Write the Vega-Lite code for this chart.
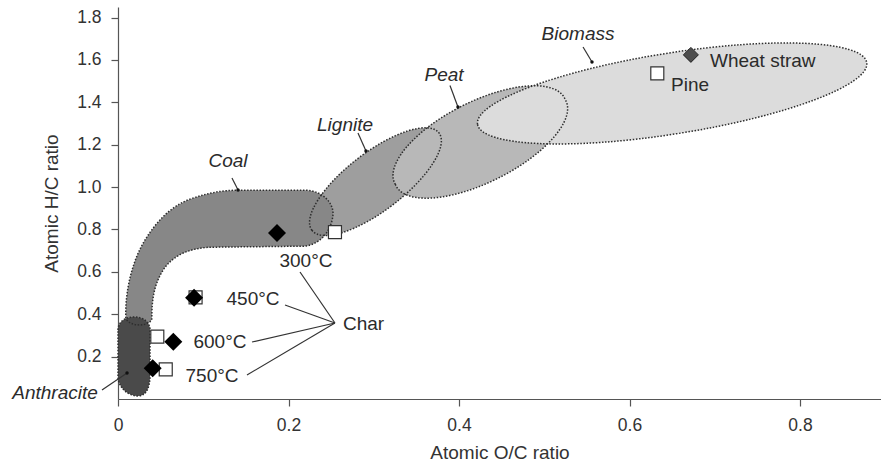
{
  "$schema": "https://vega.github.io/schema/vega-lite/v6.json",
  "width": 763,
  "height": 392,
  "autosize": {"type": "none"},
  "padding": {"left": 118, "top": 7, "right": 0, "bottom": 65},
  "background": "white",
  "config": {
    "view": {"stroke": null},
    "font": "Liberation Sans",
    "axis": {
      "grid": false,
      "domainColor": "#555",
      "domainWidth": 1.2,
      "tickColor": "#555",
      "tickWidth": 1.2,
      "tickSize": 7,
      "labelFont": "Liberation Sans",
      "labelFontSize": 17.5,
      "labelColor": "#333",
      "labelPadding": 10,
      "labelFlush": false,
      "titleFont": "Liberation Sans",
      "titleFontSize": 19,
      "titleFontWeight": "normal",
      "titleColor": "#333"
    }
  },
  "datasets": {
    "regions": [
      {"region": "Lignite", "x": 0.302, "y": 1.026},
      {"region": "Peat", "x": 0.425, "y": 1.213},
      {"region": "Biomass", "x": 0.65, "y": 1.442},
      {"region": "Coal", "x": 0.13, "y": 0.66},
      {"region": "Anthracite", "x": 0.01, "y": 0.12}
    ],
    "lines": [
      {"x": 0.1337, "y": 1.0429, "x2": 0.1408, "y2": 0.9863},
      {"x": 0.2815, "y": 1.2553, "x2": 0.2909, "y2": 1.1704},
      {"x": 0.3894, "y": 1.4795, "x2": 0.3988, "y2": 1.378},
      {"x": 0.5455, "y": 1.6612, "x2": 0.556, "y2": 1.5904},
      {"x": -0.0188, "y": 0.0425, "x2": 0.0106, "y2": 0.1227},
      {"x": 0.2135, "y": 0.5993, "x2": 0.2545, "y2": 0.3587},
      {"x": 0.1959, "y": 0.4436, "x2": 0.2545, "y2": 0.3587},
      {"x": 0.1572, "y": 0.269, "x2": 0.2545, "y2": 0.3587},
      {"x": 0.1513, "y": 0.1133, "x2": 0.2545, "y2": 0.3587}
    ],
    "dots": [
      {"x": 0.1408, "y": 0.9863},
      {"x": 0.2909, "y": 1.1704},
      {"x": 0.3988, "y": 1.378},
      {"x": 0.556, "y": 1.5904},
      {"x": 0.0106, "y": 0.1227}
    ],
    "squares": [
      {"name": "300C", "x": 0.2545, "y": 0.788},
      {"name": "450C", "x": 0.091, "y": 0.48},
      {"name": "600C", "x": 0.0461, "y": 0.294},
      {"name": "750C", "x": 0.056, "y": 0.14},
      {"name": "Pine", "x": 0.6326, "y": 1.537}
    ],
    "diamonds": [
      {"name": "raw", "x": 0.1865, "y": 0.783},
      {"name": "450C", "x": 0.0892, "y": 0.478},
      {"name": "600C", "x": 0.0649, "y": 0.27},
      {"name": "750C", "x": 0.0407, "y": 0.145}
    ],
    "wheat": [
      {"name": "Wheat straw", "x": 0.672, "y": 1.624}
    ],
    "regionLabels": [
      {"label": "Coal", "x": 0.129, "y": 1.123},
      {"label": "Lignite", "x": 0.2663, "y": 1.2931},
      {"label": "Peat", "x": 0.3824, "y": 1.529},
      {"label": "Biomass", "x": 0.5396, "y": 1.7225},
      {"label": "Anthracite", "x": -0.0739, "y": 0.0283}
    ],
    "tempLabels": [
      {"label": "300°C", "x": 0.2205, "y": 0.6513},
      {"label": "450°C", "x": 0.1584, "y": 0.4719},
      {"label": "600°C", "x": 0.1196, "y": 0.269},
      {"label": "750°C", "x": 0.1103, "y": 0.1085}
    ],
    "leftLabels": [
      {"label": "Char", "x": 0.2639, "y": 0.3539},
      {"label": "Wheat straw", "x": 0.6944, "y": 1.5951},
      {"label": "Pine", "x": 0.6487, "y": 1.4818}
    ]
  },
  "encoding": {
    "x": {
      "field": "x",
      "type": "quantitative",
      "scale": {"domain": [0, 0.895], "nice": false, "zero": false},
      "axis": {"values": [0, 0.2, 0.4, 0.6, 0.8], "format": ".1~f", "title": "Atomic O/C ratio", "titlePadding": 10}
    },
    "y": {
      "field": "y",
      "type": "quantitative",
      "scale": {"domain": [0, 1.85], "nice": false, "zero": false},
      "axis": {"values": [0.2, 0.4, 0.6, 0.8, 1.0, 1.2, 1.4, 1.6, 1.8], "format": ".1f", "title": "Atomic H/C ratio", "titlePadding": 15}
    }
  },
  "layer": [
    {
      "data": {"name": "regions"},
      "mark": {"type": "point", "filled": true, "size": 4, "opacity": 1, "strokeWidth": 0},
      "encoding": {
        "shape": {
          "field": "region",
          "type": "nominal",
          "scale": {
            "domain": ["Lignite", "Peat", "Biomass", "Coal", "Anthracite"],
            "range": [
              "M -63.5 48.7 A 80 29 -37.5 1 1 63.5 -48.7 A 80 29 -37.5 1 1 -63.5 48.7 Z",
              "M -84.9 42.5 A 95 39 -26.6 1 1 84.9 -42.5 A 95 39 -26.6 1 1 -84.9 42.5 Z",
              "M -194.6 30.8 A 197 40.5 -9 1 1 194.6 -30.8 A 197 40.5 -9 1 1 -194.6 30.8 Z",
              "M -103 59 C -104 31 -96 -1 -82 -22 C -71 -39 -57 -54 -36 -61 C -21 -66 -7 -69 11 -69 L 76 -69 C 93 -69 106 -56 104 -43 C 102 -27 91 -15 76 -13 L -14 -12 C -39 -12 -57 -4 -67 13 C -75 27 -77 41 -77 59 C -77 67 -99 69 -103 59 Z",
              "M -8.5 -43.6 C -8.5 -51.6 -1.5 -56.6 7.5 -56.6 C 16.5 -56.6 23.5 -51.6 23.5 -43.6 L 23.5 1.4 C 23.5 14.4 19.5 22.4 11.5 22.4 C 1.5 22.4 -7.5 14.4 -8.5 4.4 Z"
            ]
          },
          "legend": null
        },
        "color": {
          "field": "region",
          "type": "nominal",
          "scale": {
            "domain": ["Lignite", "Peat", "Biomass", "Coal", "Anthracite"],
            "range": ["#9e9e9e", "#b8b8b8", "#dcdcdc", "#878787", "#4a4a4a"]
          },
          "legend": null
        }
      }
    },
    {
      "data": {"name": "regions"},
      "mark": {"type": "point", "filled": false, "size": 4, "opacity": 1, "color": "#2e2e2e", "strokeWidth": 1.5, "strokeDash": [1.5, 1.6]},
      "encoding": {
        "shape": {"field": "region", "type": "nominal", "legend": null}
      }
    },
    {
      "data": {"name": "lines"},
      "mark": {"type": "rule", "color": "#333", "strokeWidth": 1.2},
      "encoding": {
        "x2": {"field": "x2"},
        "y2": {"field": "y2"}
      }
    },
    {
      "data": {"name": "dots"},
      "mark": {"type": "point", "shape": "circle", "filled": true, "size": 12, "opacity": 1, "color": "#111"}
    },
    {
      "data": {"name": "squares"},
      "mark": {"type": "point", "shape": "square", "filled": true, "size": 169, "opacity": 1, "fill": "white", "stroke": "#333", "strokeWidth": 1.2}
    },
    {
      "data": {"name": "diamonds"},
      "mark": {"type": "point", "shape": "diamond", "filled": true, "size": 324, "opacity": 1, "color": "#000"}
    },
    {
      "data": {"name": "wheat"},
      "mark": {"type": "point", "shape": "diamond", "filled": true, "size": 225, "opacity": 1, "fill": "#4d4d4d", "stroke": "#222", "strokeWidth": 1}
    },
    {
      "data": {"name": "regionLabels"},
      "mark": {"type": "text", "font": "Liberation Sans", "fontSize": 19, "fontStyle": "italic", "color": "#2b2b2b", "align": "center", "baseline": "middle"},
      "encoding": {"text": {"field": "label"}}
    },
    {
      "data": {"name": "tempLabels"},
      "mark": {"type": "text", "font": "Liberation Sans", "fontSize": 19, "color": "#2b2b2b", "align": "center", "baseline": "middle"},
      "encoding": {"text": {"field": "label"}}
    },
    {
      "data": {"name": "leftLabels"},
      "mark": {"type": "text", "font": "Liberation Sans", "fontSize": 19, "color": "#2b2b2b", "align": "left", "baseline": "middle"},
      "encoding": {"text": {"field": "label"}}
    }
  ]
}
